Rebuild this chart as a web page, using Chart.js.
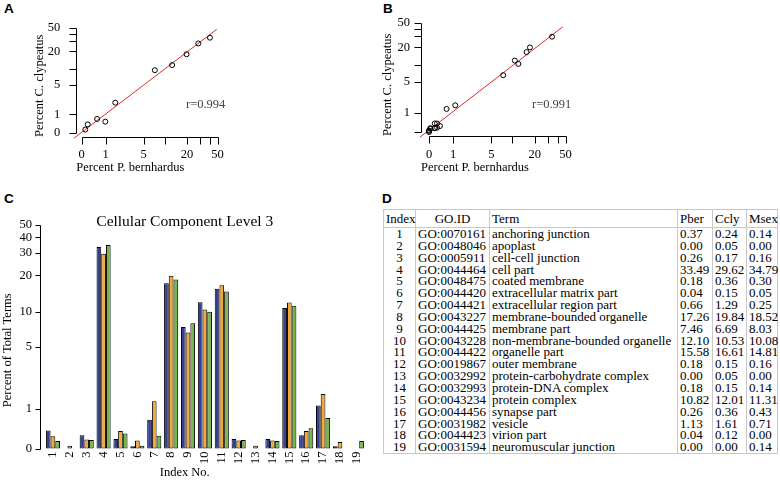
<!DOCTYPE html>
<html lang="en">
<head>
<meta charset="utf-8">
<title>Cellular Component Level 3</title>
<script src="https://cdn.jsdelivr.net/npm/chart.js@4.4.1/dist/chart.umd.min.js"></script>
<style>
  html, body { margin: 0; padding: 0; background: #fff; }
  body { position: relative; width: 780px; height: 480px; overflow: hidden; font-family: 'Liberation Serif', 'Times New Roman', serif; color: #000; }
  canvas { position: absolute; }
  .tag { position: absolute; font: bold 13.5px/13.5px 'Liberation Sans', Arial, sans-serif; }
  .rval { position: absolute; font-size: 12.5px; line-height: 12.5px; color: #444; }
  #goTable { position: absolute; left: 383px; top: 209px; width: 394px; border-collapse: collapse; table-layout: fixed; font-size: 13px; }
  #goTable th, #goTable td { border-left: 1px solid #c8c8c8; border-right: 1px solid #c8c8c8; padding: 0 2px; height: 11.85px; line-height: 11.85px; white-space: nowrap; font-weight: normal; text-align: left; overflow: visible; }
  #goTable th { height: 17px; line-height: 17px; border-top: 1px solid #c8c8c8; border-bottom: 1px solid #c8c8c8; }
  #goTable tr:last-child td { border-bottom: 1px solid #c8c8c8; }
  #goTable .c { text-align: center; }
</style>
</head>
<body>
<div class="tag" style="left:4px;top:2px">A</div>
<div class="tag" style="left:383px;top:2px">B</div>
<div class="tag" style="left:4px;top:192px">C</div>
<div class="tag" style="left:382px;top:192px">D</div>

<canvas id="chartA" width="260" height="180" style="left:0;top:0"></canvas>
<canvas id="chartB" width="220" height="180" style="left:380px;top:0"></canvas>
<canvas id="chartC" width="375" height="280" style="left:0;top:200px"></canvas>

<div class="rval" id="rA" style="left:186px;top:98px"></div>
<div class="rval" id="rB" style="left:532px;top:98px"></div>

<table id="goTable">
  <colgroup>
    <col style="width:32px"><col style="width:74px"><col style="width:188px">
    <col style="width:35px"><col style="width:34px"><col style="width:31px">
  </colgroup>
  <thead><tr id="goHead"></tr></thead>
  <tbody id="goBody"></tbody>
</table>

<script>
// 표(D)와 막대(C), 산점도(B)에 쓰는 데이터
const goIds = ['GO:0070161', 'GO:0048046', 'GO:0005911', 'GO:0044464', 'GO:0048475', 'GO:0044420', 'GO:0044421',
    'GO:0043227', 'GO:0044425', 'GO:0043228', 'GO:0044422', 'GO:0019867', 'GO:0032992', 'GO:0032993',
    'GO:0043234', 'GO:0044456', 'GO:0031982', 'GO:0044423', 'GO:0031594'];
const terms = ['anchoring junction', 'apoplast', 'cell-cell junction', 'cell part', 'coated membrane',
    'extracellular matrix part', 'extracellular region part', 'membrane-bounded organelle', 'membrane part',
    'non-membrane-bounded organelle', 'organelle part', 'outer membrane', 'protein-carbohydrate complex',
    'protein-DNA complex', 'protein complex', 'synapse part', 'vesicle', 'virion part', 'neuromuscular junction'];
const pber = [0.37, 0.00, 0.26, 33.49, 0.18, 0.04, 0.66, 17.26, 7.46, 12.10, 15.58, 0.18, 0.00, 0.18, 10.82, 0.26, 1.13, 0.04, 0.00];
const ccly = [0.24, 0.05, 0.17, 29.62, 0.36, 0.15, 1.29, 19.84, 6.69, 10.53, 16.61, 0.15, 0.05, 0.15, 12.01, 0.36, 1.61, 0.12, 0.00];
const msex = [0.14, 0.00, 0.16, 34.79, 0.30, 0.05, 0.25, 18.52, 8.03, 10.08, 14.81, 0.16, 0.00, 0.14, 11.31, 0.43, 0.71, 0.00, 0.14];
const tableHead = ['Index', 'GO.ID', 'Term', 'Pber', 'Ccly', 'Msex'];

// 패널 A 점
const aPber = [0.11, 0.19, 0.56, 0.98, 1.64, 7.3, 12.7, 19.8, 28.2, 39.9];
const aCcly = [0.13, 0.37, 0.68, 0.52, 2.09, 9.4, 11.6, 17.9, 27.3, 34.1];

// 회귀선 끝점
const aFitX = [-0.2, 48.8];
const aFitY = [-0.18, 46.9];
const bFitX = [-0.23, 45.9];
const bFitY = [-0.17, 42.6];

// 축 눈금
const tickVals = [0, 1, 5, 10, 20, 30, 40, 50];
const tickTextScatter = ['0', '1', '5', '', '20', '', '', '50'];
const tickTextBy = ['', '1', '5', '', '20', '', '', '50'];
const tickTextBar = ['0', '1', '5', '10', '20', '30', '40', '50'];

const barColors = ['#34408f', '#f2a93b', '#73b64c'];
const fitColor = '#dd2a2a';

// log10(x + 1) 축 변환
const tr = v => Math.log10(v + 1);

Chart.defaults.font.family = "'Liberation Serif', 'Times New Roman', serif";
Chart.defaults.font.size = 12.5;
Chart.defaults.color = '#000';

// R 스타일 축: 첫 눈금~마지막 눈금까지만 선을 그림
const rAxes = {
    id: 'rAxes',
    afterDraw(chart, args, opts) {
        const { ctx, chartArea } = chart;
        ctx.save();
        ctx.strokeStyle = '#000';
        ctx.lineWidth = 1;
        ctx.beginPath();
        if (opts.x) {
            const s = chart.scales.x;
            const px = s.ticks.map(t => Math.round(s.getPixelForValue(t.value)) + 0.5);
            const y = Math.round(chartArea.bottom + opts.x.shift) + 0.5;
            ctx.moveTo(px[0], y);
            ctx.lineTo(px[px.length - 1], y);
            px.forEach(p => { ctx.moveTo(p, y); ctx.lineTo(p, y + opts.x.len); });
        }
        if (opts.y) {
            const s = chart.scales.y;
            const py = s.ticks.map(t => Math.round(s.getPixelForValue(t.value)) + 0.5);
            const x = Math.round(chartArea.left - opts.y.shift) + 0.5;
            ctx.moveTo(x, py[0]);
            ctx.lineTo(x, py[py.length - 1]);
            py.forEach(p => { ctx.moveTo(x, p); ctx.lineTo(x - opts.y.len, p); });
        }
        ctx.stroke();
        ctx.restore();
    }
};

function setTicks(scale) {
    scale.ticks = tickVals.map(v => ({ value: tr(v) }));
}

function scatterChart(id, xs, ys, fitX, fitY, cfg) {
    return new Chart(document.getElementById(id), {
        type: 'scatter',
        data: {
            datasets: [
                {
                    type: 'line',
                    data: fitX.map((x, i) => ({ x: tr(x), y: tr(fitY[i]) })),
                    borderColor: fitColor, borderWidth: 1, pointRadius: 0, clip: false, order: 2
                },
                {
                    data: xs.map((x, i) => ({ x: tr(x), y: tr(ys[i]) })),
                    pointStyle: 'circle', pointRadius: 2.5, borderWidth: 1,
                    borderColor: '#000', backgroundColor: 'rgba(0,0,0,0)', order: 1
                }
            ]
        },
        options: {
            responsive: false, animation: false,
            layout: { padding: cfg.pad },
            plugins: {
                legend: { display: false }, tooltip: { enabled: false },
                rAxes: { x: { shift: 0, len: 7 }, y: { shift: 0, len: 7 } }
            },
            scales: {
                x: {
                    type: 'linear', min: cfg.xMin, max: cfg.xMax,
                    grid: { display: false, drawTicks: false }, border: { display: false },
                    afterBuildTicks: setTicks,
                    afterFit: s => { s.height = cfg.xH; },
                    ticks: { autoSkip: false, maxRotation: 0, padding: cfg.xPad, callback: (v, i) => tickTextScatter[i] },
                    title: { display: true, text: 'Percent P. bernhardus', align: 'start', padding: { top: 0, bottom: cfg.xTitlePad } }
                },
                y: {
                    type: 'linear', min: cfg.yMin, max: cfg.yMax,
                    grid: { display: false, drawTicks: false }, border: { display: false },
                    afterBuildTicks: setTicks,
                    afterFit: s => { s.width = cfg.yW; },
                    ticks: { autoSkip: false, padding: cfg.yPad, callback: (v, i) => cfg.yText[i] },
                    title: { display: true, text: 'Percent C. clypeatus', align: 'start', padding: { top: cfg.yTitlePad, bottom: 0 } }
                }
            }
        },
        plugins: [rAxes]
    });
}

scatterChart('chartA', aPber, aCcly, aFitX, aFitY, {
    pad: { top: 19, right: 37, left: 0, bottom: 0 },
    xMin: -0.068, xMax: 1.776, yMin: -0.068, yMax: 1.776,
    xH: 43, yW: 76.3, xPad: 10.5, yPad: 16, xTitlePad: 5, yTitlePad: 32,
    yText: tickTextScatter
});

scatterChart('chartB', pber, ccly, bFitX, bFitY, {
    pad: { top: 18.3, right: 28.6, left: 0, bottom: 0 },
    xMin: -0.1, xMax: 1.78, yMin: -0.062, yMax: 1.77,
    xH: 44, yW: 41, xPad: 11.5, yPad: 11, xTitlePad: 4.5, yTitlePad: 0,
    yText: tickTextBy
});

document.getElementById('rA').textContent = 'r=0.994';
document.getElementById('rB').textContent = 'r=0.991';

// 패널 C 막대그래프
new Chart(document.getElementById('chartC'), {
    type: 'bar',
    data: {
        labels: goIds.map((g, i) => String(i + 1)),
        datasets: [pber, ccly, msex].map((vals, k) => ({
            data: vals.map(tr),
            backgroundColor: barColors[k],
            borderColor: '#000', borderWidth: 1, borderSkipped: false,
            categoryPercentage: 0.836, barPercentage: 1, clip: false
        }))
    },
    options: {
        responsive: false, animation: false,
        layout: { padding: { top: 0, right: 5.5, left: 0, bottom: 0 } },
        plugins: {
            legend: { display: false }, tooltip: { enabled: false },
            title: { display: true, text: 'Cellular Component Level 3', font: { size: 15.5, weight: 'normal' }, padding: { top: 12.5, bottom: 20.9 } },
            subtitle: { display: true, text: 'Index No.', position: 'bottom', font: { size: 12.5 }, padding: { top: 0, bottom: 0 } },
            rAxes: { x: false, y: { shift: 4.5, len: 5 } }
        },
        scales: {
            x: {
                grid: { display: false, drawTicks: false }, border: { display: false },
                afterFit: s => { s.height = 16.5; },
                ticks: { autoSkip: false, minRotation: 90, maxRotation: 90, padding: 3 }
            },
            y: {
                type: 'linear', min: 0, max: 1.5,
                grid: { display: false, drawTicks: false }, border: { display: false },
                afterBuildTicks: setTicks,
                afterFit: s => { s.width = 44.5; },
                ticks: { autoSkip: false, padding: 12.5, callback: (v, i) => tickTextBar[i] },
                title: { display: true, text: 'Percent of Total Terms', padding: { top: 0, bottom: 0 } }
            }
        }
    },
    plugins: [rAxes]
});

// 패널 D 표
document.getElementById('goHead').innerHTML = tableHead.map((h, i) =>
    `<th class="${i < 2 ? 'c' : ''}">${h}</th>`).join('');
document.getElementById('goBody').innerHTML = goIds.map((g, i) => `
    <tr>
        <td class="c">${i + 1}</td>
        <td>${g}</td>
        <td>${terms[i]}</td>
        <td>${pber[i].toFixed(2)}</td>
        <td>${ccly[i].toFixed(2)}</td>
        <td>${msex[i].toFixed(2)}</td>
    </tr>`).join('');
</script>
</body>
</html>
